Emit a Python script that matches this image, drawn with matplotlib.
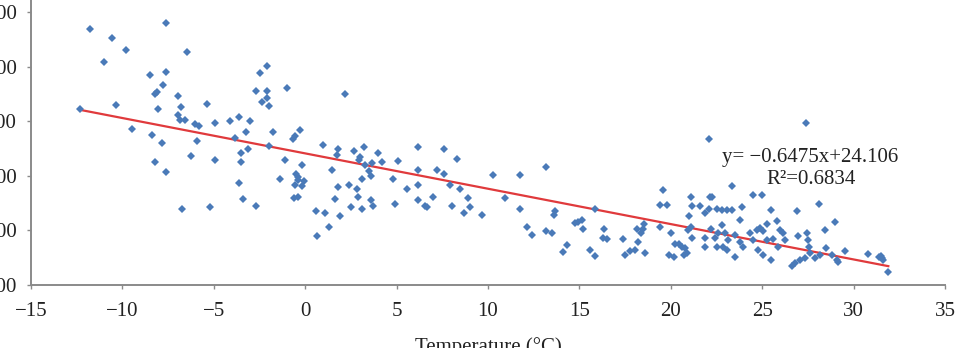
import numpy as np
import matplotlib
matplotlib.use('Agg')
import matplotlib.pyplot as plt

plt.rcParams['font.family'] = ['Liberation Serif', 'DejaVu Serif']

# daily temperature (°C) and measured value
temp = [-12.32, -11.77, -10.99, -10.59, -10.37, -9.80, -9.47, -8.47, -8.38, -8.23, -8.23, -8.09, -8.07,
        -7.82, -7.80, -7.60, -7.60, -7.60, -6.98, -6.98, -6.85, -6.78, -6.72, -6.56, -6.47, -6.26, -6.03,
        -5.94, -5.81, -5.39, -5.23, -4.92, -4.92, -4.11, -3.84, -3.60, -3.60, -3.49, -3.49, -3.40, -3.26,
        -3.11, -3.00, -2.71, -2.69, -2.49, -2.38, -2.11, -2.09, -2.09, -2.00, -2.00, -1.78, -1.38, -1.12,
        -1.00, -0.67, -0.58, -0.50, -0.56, -0.60, -0.41, -0.41, -0.28, -0.19, -0.19, -0.05, -0.40, 0.59, 0.66,
        0.99, 1.08, 1.32, 1.47, 1.61, 1.78, 1.72, 1.81, 1.92, 2.18, 2.41, 2.49, 2.69, 2.82, 2.93, 3.00, 2.91,
        3.09, 3.12, 3.22, 3.27, 3.47, 3.58, 3.60, 3.67, 3.69, 4.00, 4.22, 4.79, 4.93, 5.08, 5.57, 6.19, 6.19,
        6.19, 6.19, 6.55, 6.66, 6.97, 7.21, 7.59, 7.59, 7.92, 8.01, 8.30, 8.47, 8.69, 8.89, 9.02, 9.65, 10.29,
        10.91, 11.77, 11.77, 12.12, 12.42, 13.19, 13.19, 13.52, 13.65, 13.63, 14.12, 14.30, 14.74, 14.94,
        15.12, 15.21, 15.58, 15.87, 15.87, 16.35, 16.27, 16.49, 17.37, 17.49,
        17.77, 18.04, 18.15, 18.22, 18.37, 18.50, 18.55, 18.59, 19.43, 19.59, 19.41, 19.81, 19.92, 20.01,
        20.19, 20.23, 20.45, 20.63, 20.70, 20.88, 20.78, 21.00, 20.92, 21.11, 21.18, 21.11, 21.18, 21.59,
        21.87, 22.11, 22.14, 22.27, 22.20, 21.87, 21.87, 22.09, 22.51, 22.78, 22.42, 22.51, 22.60, 22.78,
        27.40, 23.33, 24.48, 24.97, 23.05, 23.33, 23.91, 25.50, 26.90, 28.09, 28.98, 25.28, 25.79, 22.97,
        22.88, 23.06, 23.15, 23.51, 23.51, 23.78, 23.97, 24.33, 24.51, 24.70, 24.88, 25.06, 24.79, 25.06,
        25.25, 25.50, 25.59, 25.86, 25.95, 26.13, 26.22, 26.61, 26.79, 26.97, 27.06, 27.34, 27.46, 27.52,
        27.57, 27.61, 27.88, 28.15, 28.43, 28.48, 28.80, 29.07, 23.78,
        29.16, 29.52, 30.80, 31.41, 31.54, 31.63, 31.50, 31.90]
value = [32.2, 46.9, 40.8, 45.2, 32.9, 43.1, 28.6, 38.5, 27.4, 22.5, 34.9, 35.4, 32.2,
         26.1, 36.7, 47.9, 39.0, 20.7, 34.6, 31.1, 30.2, 32.6, 13.9, 30.3, 42.6, 23.6, 29.5,
         26.4, 29.1, 33.2, 14.2, 29.6, 22.9, 30.1, 27.0, 30.8, 18.7, 24.1, 22.5, 15.8, 28.1,
         25.0, 30.0, 14.4, 35.5, 38.9, 33.6, 40.1, 35.5, 34.3, 32.7, 25.4, 28.0, 19.4, 22.9,
         36.1, 26.7, 27.2, 20.4, 18.4, 15.9, 16.1, 19.8, 28.3, 21.9, 18.2, 19.1, 19.2, 13.6, 9.0,
         25.6, 13.2, 10.7, 21.1, 15.7, 24.9, 23.8, 17.9, 12.6, 34.9, 18.3, 14.2, 24.5, 17.6, 22.9, 23.5, 16.1,
         14.0, 19.5, 25.2, 22.0, 20.8, 15.6, 20.0, 22.4, 14.5, 24.1, 22.5, 19.4, 14.8, 22.7, 17.5, 25.3, 21.1,
         18.3, 15.6, 14.5, 14.2, 16.2, 21.1, 24.9, 20.4, 18.3, 14.4, 23.1, 17.6, 13.2, 15.9, 14.2, 12.8, 20.2,
         15.9, 20.1, 13.9, 10.6, 9.1, 21.6, 9.9, 9.6, 13.6, 12.8, 6.0, 7.3, 11.3, 11.6,
         11.9, 10.2, 6.4, 5.4, 13.9, 10.3, 8.7, 8.4, 8.4, 5.5,
         6.3, 6.4, 10.3, 7.8, 9.5, 10.2, 11.2, 5.8, 10.7, 17.4, 14.7, 14.7, 5.5, 9.6,
         5.1, 7.6, 7.6, 7.0, 5.5, 5.8, 6.7, 12.6, 10.1, 16.1, 14.4, 10.6, 8.7, 14.4,
         13.1, 26.7, 16.1, 16.1, 10.2, 8.7, 7.0, 14.0, 14.0, 13.7, 8.7, 7.0, 9.5, 10.9,
         29.6, 18.2, 16.4, 16.4, 13.7, 13.7, 14.2, 13.7, 13.6, 14.8, 11.5, 11.2, 11.7, 9.5,
         7.0, 6.4, 8.2, 9.2, 5.2, 7.9, 7.0, 9.5, 8.2, 10.1, 10.4, 9.8, 6.4, 5.5,
         8.2, 4.6, 8.5, 7.0, 10.1, 9.5, 8.2, 3.4, 4.0, 8.9, 4.6, 4.9, 9.5, 8.2,
         7.0, 5.8, 4.9, 5.5, 10.1, 6.7, 5.5, 4.6, 11.9,
         4.3, 6.3, 5.7, 5.1, 4.9, 4.6, 5.3, 2.4]

# linear trend as printed on the chart
slope = -0.6475
intercept = 24.106
r2 = 0.6834

x_ticks = [-15, -10, -5, 0, 5, 10, 15, 20, 25, 30, 35]
y_ticks = [0, 10, 20, 30, 40, 50]

fig = plt.figure(figsize=(9.55, 3.48), dpi=100)
ax = fig.add_axes([31/955, 63/348, 914/955, 285/348])

ax.plot(temp, value, 'D', color='#4a7ab8', markersize=4, markeredgewidth=0, zorder=3)
xl = np.array([min(temp), max(temp)])
ax.plot(xl, slope*xl + intercept, color='#e03a3c', linewidth=1.6, zorder=2)

ax.set_xlim(-15, 35)
ax.set_ylim(0, 52.2)
ax.set_xticks(x_ticks)
ax.set_yticks(y_ticks)
ax.set_yticklabels(['%.2f' % v for v in y_ticks])

for s in ['top', 'right']:
    ax.spines[s].set_visible(False)
for s in ['left', 'bottom']:
    ax.spines[s].set_color('#8a8a8a')
    ax.spines[s].set_linewidth(1.4)
ax.tick_params(direction='out', length=3, width=1, color='#8a8a8a', labelsize=15, labelcolor='#222222')
ax.tick_params(axis='x', pad=9)
ax.tick_params(axis='y', pad=7)

ax.text(27.6, 23.3, 'y= \u22120.6475x+24.106', fontsize=15, ha='center', va='center', color='#222222')
ax.text(27.65, 19.4, 'R\u00b2=0.6834', fontsize=15, ha='center', va='center', color='#222222')

ax.set_xlabel('Temperature (\u00b0C)', fontsize=15, color='#222222')
ax.xaxis.set_label_coords(0.5, -0.182)
ax.xaxis.label.set_va('top')

fig.savefig('out.png', dpi=100)
